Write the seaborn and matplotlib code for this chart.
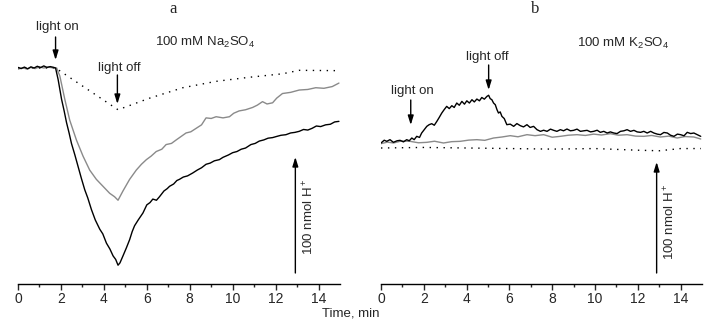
import numpy as np
import pandas as pd
import matplotlib
matplotlib.use("Agg")
import matplotlib.pyplot as plt
import seaborn as sns

# ---------------- data (time in min, signal in nmol H+ relative to baseline) ----------------
a_black_t = [0.00, 0.15, 0.30, 0.45, 0.60, 0.75, 0.90, 1.05, 1.20, 1.35, 1.50, 1.65, 1.75,
             1.87, 2.03, 2.15, 2.26, 2.38, 2.49, 2.65, 2.80, 2.95, 3.11, 3.25, 3.42, 3.60,
             3.81, 3.95, 4.12, 4.28, 4.43, 4.55, 4.66, 4.75, 4.89, 5.05, 5.20, 5.32, 5.43,
             5.60, 5.82, 6.00, 6.15, 6.28, 6.45, 6.59, 6.80, 6.95, 7.06, 7.25, 7.40, 7.52,
             7.70, 7.90, 8.14, 8.35, 8.55, 8.76, 8.95, 9.15, 9.38, 9.55, 9.80, 10.00, 10.20,
             10.40, 10.60, 10.85, 11.05, 11.24, 11.45, 11.65, 11.86, 12.05, 12.25, 12.48,
             12.70, 12.90, 13.10, 13.30, 13.50, 13.70, 13.90, 14.10, 14.33, 14.55, 14.75, 14.95]
a_black_y = [0.5, -0.5, 0.8, -0.8, 1.0, 0.0, 1.5, 0.3, 1.8, 0.5, 1.2, 0.6, 0.0,
             -10, -27, -37, -47, -56, -65, -75, -85, -95, -105, -112, -122, -131,
             -139, -143, -151, -156, -162, -165, -170, -168, -162, -155, -148, -141, -136,
             -131, -125, -118, -116, -113, -114, -111, -106, -104, -102, -100, -97, -96,
             -94, -93, -90.5, -88, -86, -83, -82, -80, -79, -77, -75, -73, -72,
             -70, -69, -66, -65, -63, -62, -60.5, -60, -59, -58, -57.5,
             -56, -55.5, -54.6, -53, -53.5, -52, -50, -50.5, -49, -48.5, -46.5, -46]

a_gray_t = [0.00, 0.20, 0.40, 0.60, 0.80, 1.00, 1.20, 1.40, 1.60, 1.80, 1.95, 2.18, 2.41,
            2.72, 3.03, 3.34, 3.65, 3.96, 4.27, 4.50, 4.66, 4.89, 5.20, 5.51, 5.75, 5.98,
            6.20, 6.44, 6.70, 6.90, 7.15, 7.37, 7.60, 7.83, 8.05, 8.30, 8.55, 8.76, 9.00,
            9.23, 9.55, 9.85, 10.05, 10.30, 10.60, 10.93, 11.15, 11.39, 11.60, 11.86, 12.05,
            12.32, 12.70, 13.10, 13.50, 13.87, 14.25, 14.64, 14.95]
a_gray_y = [-1.0, 0.2, -0.8, 0.5, -0.5, 1.0, 0.0, 0.8, 0.2, 0.0, -7, -27, -45,
            -62, -76, -88, -96, -102, -108, -111, -114, -106, -96, -88, -83, -79,
            -76, -72, -70, -66, -65, -62, -59, -56, -55, -52, -49, -43, -43.5,
            -42, -43, -42, -39, -37, -36, -34, -32, -29, -31, -30, -26,
            -22, -21, -19, -18.5, -17, -17.5, -16, -13]

a_dot_t = [0.0, 1.75, 4.66, 6.13, 7.68, 9.23, 10.77, 12.32, 13.10, 14.95]
a_dot_y = [0.0, 0.0, -36, -26, -17, -11.5, -8, -5, -2, -2.3]

b_black_t = [0.00, 0.15, 0.27, 0.42, 0.58, 0.75, 0.89, 1.05, 1.20, 1.32, 1.44, 1.55, 1.67,
             1.80, 1.90, 2.02, 2.14, 2.25, 2.37, 2.49, 2.61, 2.72, 2.84, 2.95, 3.07, 3.19,
             3.31, 3.42, 3.54, 3.66, 3.78, 3.90, 4.01, 4.13, 4.25, 4.36, 4.48, 4.60, 4.71,
             4.83, 4.95, 5.03, 5.10, 5.18, 5.26, 5.34, 5.42, 5.49, 5.57, 5.65, 5.76, 5.88,
             6.04, 6.20, 6.35, 6.51, 6.66, 6.82, 6.97, 7.13, 7.29, 7.45, 7.60, 7.76, 7.92,
             8.07, 8.22, 8.38, 8.53, 8.69, 8.85, 9.00, 9.16, 9.32, 9.48, 9.63, 9.79, 9.94,
             10.10, 10.25, 10.41, 10.57, 10.72, 10.88, 11.03, 11.19, 11.35, 11.50, 11.66,
             11.82, 11.97, 12.13, 12.28, 12.44, 12.60, 12.75, 12.91, 13.06, 13.22, 13.38,
             13.53, 13.69, 13.85, 14.00, 14.16, 14.31, 14.47, 14.62, 14.78, 14.94]
b_black_y = [0.0, 2.5, 1.5, 3.0, 0.6, 2.0, 2.4, 1.0, 3.0, 2.0, 4.5, 3.0, 6.0,
             5.0, 9.0, 12.0, 15.0, 16.5, 17.4, 16.0, 19.5, 23.0, 27.0, 30.0, 33.0, 31.0,
             33.6, 32.0, 36.0, 34.0, 37.5, 35.0, 38.0, 36.0, 39.0, 37.0, 39.6, 38.0, 41.0,
             39.5, 42.0, 43.0, 40.0, 39.0, 36.0, 34.5, 30.0, 27.0, 28.0, 24.0, 22.0, 16.5,
             17.0, 15.0, 17.5, 15.6, 14.5, 16.5, 14.0, 15.0, 12.0, 10.5, 11.5, 10.5, 12.5,
             11.4, 10.5, 12.0, 11.0, 12.6, 11.0, 11.4, 12.5, 10.5, 11.0, 11.4, 10.0, 10.5,
             11.5, 9.6, 10.5, 9.0, 10.0, 9.0, 8.5, 10.5, 11.0, 12.0, 10.5,
             11.4, 10.0, 9.6, 10.5, 9.0, 10.5, 9.0, 8.0, 7.5, 9.5, 9.0,
             7.0, 6.0, 8.0, 7.5, 6.5, 9.6, 8.5, 9.0, 7.5, 6.0]

b_gray_t = [0.00, 0.30, 0.58, 0.95, 1.36, 1.75, 2.14, 2.50, 2.92, 3.30, 3.70, 4.10, 4.48,
            4.85, 5.26, 5.65, 6.04, 6.40, 6.82, 7.20, 7.60, 8.00, 8.38, 8.75, 9.16, 9.55,
            9.94, 10.30, 10.72, 11.10, 11.50, 11.90, 12.28, 12.65, 13.06, 13.45, 13.84,
            14.20, 14.62, 14.94]
b_gray_y = [-0.6, 0.8, 0.0, 1.8, 1.5, 0.2, 0.6, 1.6, 0.0, 1.2, 1.5, 2.6, 3.0,
            2.4, 4.5, 5.4, 6.6, 5.6, 7.5, 6.6, 7.5, 5.2, 6.0, 7.0, 7.5, 6.8,
            8.0, 7.2, 8.4, 7.0, 7.5, 6.2, 6.0, 6.8, 5.4, 6.2, 4.5, 5.8, 5.4, 3.6]

b_dot_t = [0.0, 2.0, 4.0, 6.0, 8.0, 10.0, 12.0, 13.0, 14.0, 14.95]
b_dot_y = [-4.5, -4.0, -4.5, -5.0, -5.5, -5.0, -6.5, -7.0, -5.0, -5.0]

xticks = [0, 2, 4, 6, 8, 10, 12, 14]

# ---------------- style ----------------
sns.set_style("white")
plt.rcParams["font.family"] = ["Liberation Sans", "DejaVu Sans"]
plt.rcParams["mathtext.fontset"] = "custom"
plt.rcParams["mathtext.rm"] = "Liberation Sans"
plt.rcParams["mathtext.it"] = "Liberation Sans:italic"
plt.rcParams["mathtext.default"] = "regular"

W, H = 714, 326
fig = plt.figure(figsize=(W / 100, H / 100), dpi=100)

bottom = 1 - 284 / H
top_px = 10
axA = fig.add_axes([18 / W, bottom, (340 - 18) / W, (284 - top_px) / H])
axB = fig.add_axes([381 / W, bottom, (702 - 381) / W, (284 - top_px) / H])


def frame(t, y):
    return pd.DataFrame({"t": t, "y": y})


def draw(ax, bt, by, gt, gy, dt, dy):
    sns.lineplot(data=frame(dt, dy), x="t", y="y", ax=ax, color="black", lw=1.0,
                 linestyle=(0, (1, 4)), estimator=None, sort=False)
    sns.lineplot(data=frame(gt, gy), x="t", y="y", ax=ax, color="#8a8a8a", lw=1.0,
                 estimator=None, sort=False)
    sns.lineplot(data=frame(bt, by), x="t", y="y", ax=ax, color="black", lw=1.0,
                 estimator=None, sort=False)


draw(axA, a_black_t, a_black_y, a_gray_t, a_gray_y, a_dot_t, a_dot_y)
draw(axB, b_black_t, b_black_y, b_gray_t, b_gray_y, b_dot_t, b_dot_y)

# y limits per panel (baseline px 68 / 143; px per nmol 1.16 / 1.11)
axA.set_ylim(-(284 - 68) / 1.16, (68 - top_px) / 1.16)
axB.set_ylim(-(284 - 143) / 1.11, (143 - top_px) / 1.11)

for ax in (axA, axB):
    ax.set_xlim(0, 15)
    ax.set_xticks(xticks)
    ax.set_xticks(np.arange(1, 15, 2), minor=True)
    ax.set_xticklabels([str(v) for v in xticks])
    ax.tick_params(axis="x", which="major", direction="out", length=4, width=1,
                   labelsize=10, pad=2, bottom=True)
    ax.tick_params(axis="x", which="minor", direction="out", length=2, width=1, bottom=True)
    ax.set_yticks([])
    ax.set_xlabel("")
    ax.set_ylabel("")
    for s in ("left", "right", "top"):
        ax.spines[s].set_visible(False)
    ax.spines["bottom"].set_linewidth(1.0)
    ax.spines["bottom"].set_color("black")
    ax.patch.set_alpha(0)

arrowprops = dict(arrowstyle="-|>,head_length=0.55,head_width=0.17", color="black", lw=1.0,
                  shrinkA=0, shrinkB=0)
fs = 9.5

# panel a annotations
axA.annotate("", xy=(1.75, (68 - 60) / 1.16), xytext=(1.75, (68 - 37) / 1.16),
             arrowprops=arrowprops)
axA.text(1.85, (68 - 27) / 1.16, "light on", ha="center", va="center", fontsize=fs)
axA.annotate("", xy=(4.63, -(104 - 68) / 1.16), xytext=(4.63, -(75 - 68) / 1.16),
             arrowprops=arrowprops)
axA.text(4.7, 0, "light off", ha="center", va="center", fontsize=fs)
axA.text(8.7, (68 - 42) / 1.16, "100 mM Na$_2$SO$_4$", ha="center", va="center", fontsize=fs)
axA.annotate("", xy=(12.92, -(157 - 68) / 1.16), xytext=(12.92, -(273 - 68) / 1.16),
             arrowprops=arrowprops)
axA.text(13.55, -(217 - 68) / 1.16, "100 nmol H$^+$", rotation=90, ha="center",
         va="center", fontsize=fs)

# panel b annotations
axB.annotate("", xy=(1.39, -(125 - 143) / 1.11), xytext=(1.39, -(100 - 143) / 1.11),
             arrowprops=arrowprops)
axB.text(1.45, -(91 - 143) / 1.11, "light on", ha="center", va="center", fontsize=fs)
axB.annotate("", xy=(5.03, -(90 - 143) / 1.11), xytext=(5.03, -(65 - 143) / 1.11),
             arrowprops=arrowprops)
axB.text(4.95, -(57 - 143) / 1.11, "light off", ha="center", va="center", fontsize=fs)
axB.text(11.3, -(43 - 143) / 1.11, "100 mM K$_2$SO$_4$", ha="center", va="center", fontsize=fs)
axB.annotate("", xy=(12.88, -(162 - 143) / 1.11), xytext=(12.88, -(273 - 143) / 1.11),
             arrowprops=arrowprops)
axB.text(13.5, -(222 - 143) / 1.11, "100 nmol H$^+$", rotation=90, ha="center",
         va="center", fontsize=fs)

# panel letters and shared x label
fig.text(173 / W, 1 - 9 / H, "a", ha="center", va="center", fontsize=12,
         family=["Liberation Serif", "DejaVu Serif"])
fig.text(535 / W, 1 - 9 / H, "b", ha="center", va="center", fontsize=12,
         family=["Liberation Serif", "DejaVu Serif"])
fig.text(351 / W, 1 - 313 / H, "Time, min", ha="center", va="center", fontsize=fs)

fig.savefig("out.png", dpi=100)
